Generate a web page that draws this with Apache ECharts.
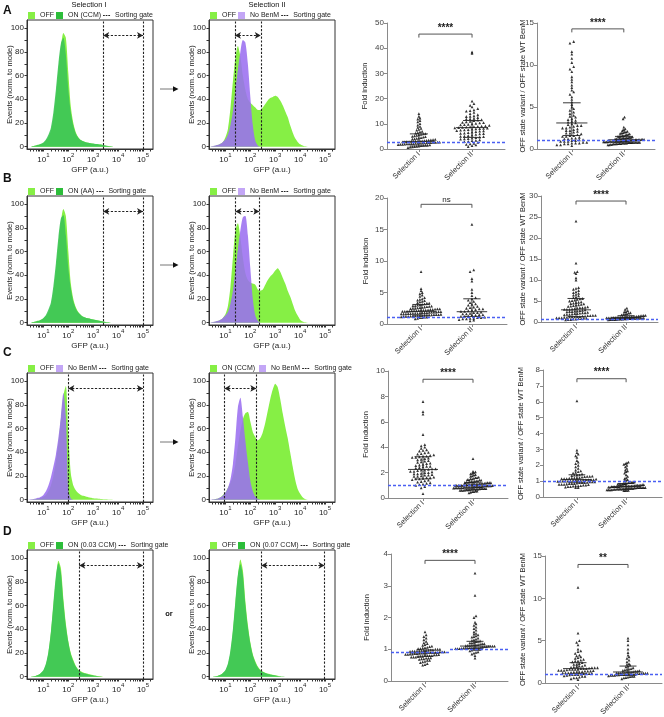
<!DOCTYPE html>
<html><head><meta charset="utf-8">
<script src="https://cdn.jsdelivr.net/npm/echarts@6/dist/echarts.min.js"></script>
<style>html,body{margin:0;padding:0;background:#fff}#c{width:664px;height:717px}</style>
</head><body><div id="c"></div>
<script>
// ---------- Histogram data (x = log10 GFP bin centre, y = events normalised to mode) ----------
const binsLog = [0.4,0.5,0.6,0.7,0.8,0.9,1.0,1.1,1.2,1.3,1.4,1.5,1.6,1.7,1.8,1.9,2.0,2.1,2.2,2.3,2.4,2.5,2.6,2.7,2.8,2.9,3.0,3.1,3.2,3.3,3.4,3.5,3.6,3.7,3.8,3.9,4.0,4.1,4.2,4.3,4.4,4.5,4.6,4.7,4.8];
const offA1 = [0,0,0.5,1,1.5,2,3,5,8,13, 24,42,64,84,96,92,62,34,20,12, 8,5.5,4.5,3.8,3.2,2.8,2.5,2.2,2,1.7, 1.2,0.8,0.5,0.3,0,0,0,0,0,0, 0,0,0,0,0];
const onA1  = [0,0,0.5,1,1.5,2.5,3.5,6,10,16, 29,48,70,87,92,78,48,29,18,11, 7.5,5.5,4.5,3.8,3.3,2.9,2.6,2.3,2.1,1.8, 1.4,1,0.6,0.3,0,0,0,0,0,0, 0,0,0,0,0];
const offA2 = [0,0.3,0.8,1.5,2.5,4,8,15,32,55, 75,85,76,60,48,40,37,35,33,31, 31,33,36,39,41,42,43,42,39,35, 30,25,18,12,7,4,2,1,0.3,0, 0,0,0,0,0];
const noBenmA2 = [0,0.5,1,1.5,2.5,4,6,10,18,30, 48,65,80,90,88,70,42,18,5,1, 0,0,0,0,0,0,0,0,0,0, 0,0,0,0,0,0,0,0,0,0, 0,0,0,0,0];
const offB1 = [0,0,0.5,1,1.5,2.5,3.5,5.5,8.5,14, 26,44,66,85,96,90,60,33,20,13, 9,6.5,5,4.2,3.6,3,2.6,2.2,1.8,1.4, 1,0.6,0.3,0,0,0,0,0,0,0, 0,0,0,0,0];
const onB1  = [0,0,0.5,1,1.5,2.5,4,6.5,11,17, 31,50,72,88,91,74,46,29,18,12, 8.5,6.5,5,4.2,3.6,3,2.6,2.2,1.8,1.4, 1,0.6,0.3,0,0,0,0,0,0,0, 0,0,0,0,0];
const offB2 = [0,0.3,0.8,1.5,2.5,4,7,14,30,55, 78,84,72,55,42,36,34,33,32,28, 27,28,32,36,39,41,44,46,43,38, 33,27,22,16,10,6,2.5,1,0.3,0, 0,0,0,0,0];
const noBenmB2 = [0,0.5,1,1.5,2.5,4,6,9,16,27, 44,62,78,89,90,74,46,20,6,1.5, 0,0,0,0,0,0,0,0,0,0, 0,0,0,0,0,0,0,0,0,0, 0,0,0,0,0];
const offC1 = [0,0,0.3,0.6,1,1.5,2.5,4,7,12, 20,32,48,68,88,96,55,22,12,8, 5.5,4,3.2,2.6,2,1.6,1.2,1,0.8,0.6, 0.4,0.3,0.2,0.1,0,0,0,0,0,0, 0,0,0,0,0];
const noBenmC1 = [0,0.3,0.6,1,1.5,2.5,4,7,12,19, 28,38,52,70,90,70,8,1,0,0, 0,0,0,0,0,0,0,0,0,0, 0,0,0,0,0,0,0,0,0,0, 0,0,0,0,0];
const onC2 = [0,0.2,0.5,1,2,4,6,10,14,20, 30,45,58,68,73,74,66,57,53,50, 52,57,65,75,85,93,98,95,85,73, 62,52,40,28,17,9,5,2,0.5,0, 0,0,0,0,0];
const noBenmC2 = [0,0.3,0.6,1,2,3.5,6,10,17,30, 52,78,86,70,50,32,16,7,2.5,0.8, 0,0,0,0,0,0,0,0,0,0, 0,0,0,0,0,0,0,0,0,0, 0,0,0,0,0];
const offD1 = [0,0,0.3,0.8,1.5,3,5,10,20,37, 60,82,98,92,66,45,30,20,14,9, 6,4.5,3.5,2.8,2.2,1.7,1.2,0.8,0.5,0.3, 0,0,0,0,0,0,0,0,0,0, 0,0,0,0,0];
const onD1  = [0,0,0.3,0.8,1.5,3,5.5,11,21,38, 62,85,96,88,63,43,29,19,13,8.5, 5.5,4,3,2.4,1.9,1.4,1,0.7,0.4,0.2, 0,0,0,0,0,0,0,0,0,0, 0,0,0,0,0];
const offD2 = [0,0,0.3,0.8,1.5,3,5,10,20,38, 62,85,99,90,64,44,29,19,13,8.5, 5.8,4.3,3.3,2.6,2,1.5,1.1,0.7,0.4,0.2, 0,0,0,0,0,0,0,0,0,0, 0,0,0,0,0];
const onD2  = [0,0,0.3,0.8,1.5,3,5.5,11,22,40, 64,86,95,86,61,42,28,18,12,8, 5.3,3.9,3,2.3,1.8,1.3,0.9,0.6,0.3,0.1, 0,0,0,0,0,0,0,0,0,0, 0,0,0,0,0];
// sorting gates, log10 GFP
const gatesA1 = [3.4, 5.0], gatesA2 = [1.38, 2.42];
const gatesB1 = [3.4, 5.0], gatesB2 = [1.4, 2.36];
const gatesC1 = [2.0, 5.0], gatesC2 = [0.96, 2.24];
const gatesD1 = [2.44, 5.0], gatesD2 = [2.44, 4.98];
const decadeTicks = [1,2,3,4,5];
const histYTicks = [0,20,40,60,80,100];

// ---------- Dot plot data ----------
const groupNames = ['Selection I','Selection II'];
const foldA_I = [0.6,0.8,0.9,1.0,1.1,1.2,1.3,1.4,1.5,1.5,1.6,1.7,1.8,1.8,1.9,2.0,2.0,2.1,2.1,2.2,2.2,2.3,2.3,2.4,2.4,2.5,2.5,2.6,2.6,2.7,2.7,2.8,2.8,2.9,2.9,3.0,3.0,3.1,3.1,3.2,3.2,3.3,3.4,3.5,3.6,3.7,3.8,3.9,4.0,4.2,4.3,4.5,4.7,4.9,5.0,5.2,5.4,5.6,5.8,6.0,6.1,6.3,6.5,6.8,7.0,7.5,7.8,8.2,8.6,9.0,9.5,10.1,10.8,11.3,11.9,12.3,13.0,14.0];
const foldA_II = [1.0,1.3,1.6,1.8,2.0,2.2,2.6,2.9,3.0,3.3,3.4,3.6,3.9,4.0,4.1,4.3,4.5,4.7,4.9,5.0,5.1,5.3,5.5,5.8,6.0,6.1,6.2,6.3,6.5,6.7,6.9,7.1,7.2,7.3,7.5,7.6,7.7,7.9,8.0,8.1,8.2,8.3,8.4,8.5,8.6,8.7,8.8,8.9,9.0,9.1,9.2,9.4,9.6,9.7,9.8,10.0,10.2,10.4,10.5,10.6,10.8,11.0,11.3,11.5,11.6,11.9,12.0,12.2,12.5,12.9,13.0,13.2,13.6,14.0,14.5,15.0,15.2,15.5,16.0,16.7,17.3,18.0,19.0,38.0,38.5];
const offA_I = [0.4,0.5,0.5,0.6,0.6,0.7,0.7,0.7,0.8,0.8,0.9,0.9,0.9,1.0,1.0,1.1,1.1,1.2,1.2,1.3,1.3,1.4,1.5,1.5,1.6,1.6,1.7,1.8,1.9,1.9,2.0,2.1,2.2,2.2,2.3,2.4,2.5,2.5,2.6,2.7,2.8,2.8,2.9,3.0,3.1,3.2,3.3,3.4,3.5,3.6,3.8,3.9,4.0,4.2,4.4,4.6,4.8,5.0,5.3,5.6,5.9,6.2,6.5,6.8,7.0,7.3,7.6,8.0,8.3,8.6,9.2,9.5,9.8,10.3,10.8,11.3,11.6,12.6,12.8];
const offA_II = [0.5,0.5,0.55,0.55,0.6,0.6,0.6,0.65,0.65,0.65,0.7,0.7,0.7,0.7,0.75,0.75,0.75,0.75,0.8,0.8,0.8,0.8,0.8,0.85,0.85,0.85,0.85,0.9,0.9,0.9,0.9,0.9,0.95,0.95,0.95,0.95,1.0,1.0,1.0,1.0,1.0,1.05,1.05,1.05,1.05,1.1,1.1,1.1,1.1,1.15,1.15,1.15,1.2,1.2,1.2,1.25,1.25,1.3,1.3,1.3,1.35,1.35,1.4,1.4,1.45,1.5,1.5,1.55,1.6,1.6,1.65,1.7,1.75,1.8,1.85,1.9,1.95,2.0,2.05,2.1,2.2,2.3,2.4,2.6,3.6,3.8];
const foldB_I = [0.8,0.9,1.0,1.0,1.1,1.1,1.15,1.2,1.2,1.2,1.25,1.3,1.3,1.3,1.35,1.35,1.4,1.4,1.4,1.45,1.5,1.5,1.5,1.55,1.6,1.6,1.6,1.65,1.65,1.7,1.7,1.7,1.75,1.8,1.8,1.8,1.85,1.9,1.9,1.9,1.95,1.95,2.0,2.0,2.0,2.05,2.1,2.1,2.1,2.15,2.2,2.2,2.2,2.25,2.3,2.3,2.35,2.4,2.4,2.45,2.5,2.5,2.55,2.6,2.65,2.7,2.75,2.8,2.85,2.9,2.9,3.0,3.05,3.1,3.2,3.3,3.3,3.4,3.5,3.6,3.7,3.8,3.9,4.0,4.2,4.4,4.6,4.8,5.0,5.3,5.6,8.3];
const foldB_II = [0.5,0.6,0.7,0.8,0.8,0.9,0.9,1.0,1.0,1.1,1.2,1.2,1.3,1.4,1.4,1.5,1.5,1.6,1.6,1.7,1.8,1.8,1.9,2.0,2.0,2.1,2.2,2.3,2.4,2.4,2.5,2.6,2.7,2.8,3.0,3.1,3.2,3.4,3.6,3.8,4.0,4.2,4.5,5.0,5.5,6.8,7.2,8.3,8.6,15.8];
const offB_I = [0.5,0.6,0.6,0.7,0.7,0.8,0.8,0.9,0.9,1.0,1.0,1.0,1.1,1.1,1.2,1.2,1.2,1.3,1.3,1.4,1.4,1.5,1.5,1.6,1.6,1.7,1.8,1.8,1.9,2.0,2.0,2.1,2.2,2.2,2.3,2.4,2.5,2.5,2.6,2.6,2.7,2.8,2.9,3.0,3.0,3.0,3.1,3.2,3.3,3.4,3.4,3.5,3.6,3.7,3.8,3.9,4.0,4.1,4.2,4.3,4.4,4.5,4.6,4.7,4.8,5.0,5.1,5.2,5.4,5.5,5.6,5.8,6.0,6.2,6.4,6.6,6.8,7.0,7.2,7.5,7.8,8.0,8.2,10.0,10.5,11.5,11.8,12.0,14.0,24.0];
const offB_II = [0.5,0.55,0.6,0.6,0.6,0.65,0.7,0.7,0.7,0.75,0.75,0.8,0.8,0.8,0.85,0.85,0.9,0.9,0.9,0.95,0.95,1.0,1.0,1.0,1.0,1.05,1.05,1.1,1.1,1.1,1.15,1.15,1.2,1.2,1.2,1.25,1.3,1.3,1.35,1.4,1.45,1.5,1.55,1.6,1.7,1.8,1.9,2.0,2.1,2.2,2.4,2.5,2.7,3.0,3.3];
const foldC_I = [0.35,0.8,0.9,1.0,1.05,1.1,1.15,1.2,1.25,1.3,1.35,1.4,1.45,1.5,1.5,1.55,1.6,1.6,1.65,1.7,1.7,1.75,1.8,1.8,1.85,1.9,1.9,1.95,2.0,2.0,2.05,2.1,2.1,2.15,2.2,2.2,2.25,2.3,2.3,2.35,2.4,2.45,2.5,2.5,2.55,2.6,2.65,2.7,2.75,2.8,2.85,2.9,2.95,3.0,3.05,3.1,3.15,3.2,3.2,3.25,3.3,3.3,3.35,3.4,3.45,3.5,3.55,3.6,3.7,3.75,3.8,3.9,4.0,4.1,4.2,5.0,6.6,6.8,7.6];
const foldC_II = [0.4,0.45,0.5,0.5,0.55,0.55,0.6,0.6,0.6,0.62,0.65,0.65,0.65,0.68,0.7,0.7,0.7,0.7,0.72,0.75,0.75,0.75,0.75,0.78,0.8,0.8,0.8,0.8,0.8,0.82,0.85,0.85,0.85,0.85,0.85,0.88,0.9,0.9,0.9,0.9,0.9,0.92,0.95,0.95,0.95,0.95,0.95,0.98,1.0,1.0,1.0,1.0,1.0,1.02,1.05,1.05,1.05,1.05,1.08,1.1,1.1,1.1,1.1,1.12,1.15,1.15,1.15,1.18,1.2,1.2,1.2,1.22,1.25,1.25,1.28,1.3,1.3,1.32,1.35,1.35,1.4,1.4,1.45,1.45,1.5,1.5,1.55,1.6,1.6,1.65,1.7,1.75,1.8,1.85,1.9,1.95,2.0,2.05,2.1,3.1];
const offC_I = [0.6,0.6,0.62,0.65,0.65,0.68,0.7,0.7,0.72,0.75,0.75,0.78,0.8,0.8,0.8,0.82,0.85,0.85,0.85,0.88,0.9,0.9,0.9,0.92,0.95,0.95,0.95,0.98,1.0,1.0,1.0,1.0,1.02,1.05,1.05,1.05,1.05,1.08,1.1,1.1,1.1,1.1,1.12,1.15,1.15,1.15,1.18,1.2,1.2,1.2,1.22,1.25,1.28,1.3,1.3,1.32,1.35,1.38,1.4,1.4,1.45,1.5,1.55,1.6,1.65,1.7,1.8,1.9,2.0,2.1,2.2,2.3,2.5,2.6,2.7,2.8,2.95,6.05];
const offC_II = [0.4,0.4,0.42,0.42,0.45,0.45,0.45,0.45,0.48,0.48,0.5,0.5,0.5,0.5,0.5,0.52,0.52,0.55,0.55,0.55,0.55,0.55,0.58,0.58,0.6,0.6,0.6,0.6,0.6,0.6,0.62,0.62,0.65,0.65,0.65,0.65,0.65,0.65,0.68,0.68,0.7,0.7,0.7,0.7,0.7,0.7,0.72,0.72,0.75,0.75,0.75,0.75,0.78,0.78,0.8,0.8,0.8,0.82,0.85,0.85,0.88,0.9,0.9,0.92,0.95,0.95,1.0,1.05,1.1,1.15,1.2,1.3,1.4,1.5,1.6,1.65,1.7,1.8,1.9,2.0,2.05,2.1,2.15,2.2];
const foldD_I = [0.5,0.52,0.55,0.58,0.6,0.62,0.65,0.65,0.68,0.7,0.7,0.72,0.72,0.73,0.75,0.75,0.75,0.77,0.78,0.78,0.8,0.8,0.8,0.8,0.82,0.82,0.83,0.84,0.84,0.85,0.85,0.86,0.86,0.87,0.88,0.88,0.88,0.9,0.9,0.9,0.9,0.9,0.92,0.92,0.92,0.93,0.94,0.94,0.94,0.95,0.95,0.96,0.96,0.97,0.98,0.98,1.0,1.0,1.0,1.02,1.02,1.04,1.05,1.06,1.08,1.1,1.12,1.15,1.18,1.2,1.25,1.3,1.35,1.4,1.45,1.55];
const foldD_II = [0.72,0.8,0.85,0.88,0.9,0.92,0.95,0.97,1.0,1.0,1.0,1.0,1.02,1.02,1.02,1.03,1.04,1.04,1.04,1.05,1.05,1.06,1.06,1.06,1.07,1.08,1.08,1.08,1.09,1.1,1.1,1.1,1.11,1.12,1.12,1.13,1.14,1.14,1.15,1.16,1.18,1.18,1.2,1.2,1.22,1.24,1.25,1.26,1.28,1.3,1.32,1.35,1.38,1.4,1.42,1.45,1.48,1.5,1.55,1.6,1.65,1.7,1.75,1.8,1.85,2.0,2.05,2.7,3.4];
const offD_I = [0.4,0.5,0.6,0.6,0.7,0.8,0.8,0.85,0.9,0.95,1.0,1.0,1.0,1.05,1.1,1.1,1.1,1.15,1.2,1.2,1.2,1.25,1.3,1.3,1.3,1.35,1.4,1.4,1.4,1.45,1.5,1.5,1.5,1.55,1.6,1.6,1.6,1.65,1.7,1.7,1.7,1.75,1.8,1.8,1.8,1.85,1.9,1.95,2.0,2.0,2.1,2.2,2.2,2.3,2.4,2.5,2.6,2.6,2.7,2.8,2.9,3.0,3.1,3.2,3.3,3.5,3.7,3.8,4.0,4.5,4.8,5.0,5.9,11.3];
const offD_II = [0.5,0.6,0.65,0.7,0.75,0.8,0.8,0.85,0.9,0.9,0.9,0.95,0.95,1.0,1.0,1.0,1.0,1.05,1.05,1.05,1.1,1.1,1.1,1.1,1.15,1.15,1.15,1.2,1.2,1.2,1.25,1.25,1.3,1.3,1.3,1.35,1.4,1.4,1.45,1.5,1.55,1.6,1.65,1.7,1.8,1.9,2.0,2.1,2.2,2.3,2.5,2.7,2.9,3.1,3.3,3.6,4.0,4.5,5.0,5.3];
// mean / lower / upper bars, per group
const statsFoldA = [[3.0,1.2,6.0],[8.5,4.6,11.3]];
const statsOffA  = [[3.1,1.6,5.5],[1.1,0.8,1.5]];
const statsFoldB = [[2.0,1.4,3.1],[1.95,1.2,4.0]];
const statsOffB  = [[2.9,1.3,5.6],[1.1,0.8,1.5]];
const statsFoldC = [[2.25,1.5,3.25],[0.95,0.7,1.2]];
const statsOffC  = [[1.1,0.9,1.4],[0.65,0.5,0.85]];
const statsFoldD = [[0.88,0.78,0.98],[1.1,1.02,1.25]];
const statsOffD  = [[1.7,1.1,2.4],[1.3,0.9,2.0]];
// blue dashed reference (WT) levels
const refFoldA = [2.8], refOffA = [1.0], refFoldB = [1.15], refOffB = [0.7];
const refFoldC = [1.0], refOffC = [1.0], refFoldD = [0.9, 1.0], refOffD = [1.0];
// significance labels and bracket heights
const sigLabels  = ['****','****','ns','****','****','****','****','**'];
const sigHeights = [45.6, 14.3, 19.0, 28.8, 9.35, 7.45, 3.8, 14.0];

// ---------- colours ----------
const LIME = '#86ef45', GREEN = '#3cc456', GREEN_KEY = '#2cbd3a', PURPLE = '#9b6ff0', PURPLE_KEY = '#c3a6f6';
const FONT = 'Liberation Sans, Arial, Helvetica, sans-serif';
const GATE_ICON = 'path://M0,0h0.01v0.01h-0.01zM0,3.4h2v1.2h-2zM3,3.4h2v1.2h-2zM6,3.4h2v1.2h-2zM0,7.99h0.01v0.01h-0.01z';

const opt = {animation:false, textStyle:{fontFamily:FONT}, grid:[], xAxis:[], yAxis:[], series:[], legend:[], graphic:[]};

const X_MIN = 0.34, X_MAX = 5.4;
const minorLog = [];
for (let n = 0; n <= 5; n++) for (let k = 1; k <= 9; k++) { const v = n + Math.log10(k); if (v > X_MIN && v < X_MAX) minorLog.push(v); }

function addHist(p) {
  const gi = opt.grid.length;
  opt.grid.push({left:p.left, top:p.top, width:126, height:129, show:true, borderColor:'#333', borderWidth:1, outerBoundsMode:'none'});
  opt.xAxis.push({gridIndex:gi, type:'value', min:X_MIN, max:X_MAX,
    axisLine:{onZero:false, lineStyle:{color:'#333'}},
    axisTick:{customValues:minorLog, length:2.5, lineStyle:{color:'#333'}},
    axisLabel:{customValues:decadeTicks, margin:3, formatter:v=>'{b|10}{s|'+v+'}',
      rich:{b:{fontSize:8, color:'#222', verticalAlign:'bottom', lineHeight:12}, s:{fontSize:6, color:'#222', verticalAlign:'top', lineHeight:12}}},
    splitLine:{show:false}, name:'GFP (a.u.)', nameLocation:'middle', nameGap:17, nameMoveOverlap:false, nameTextStyle:{fontSize:8, color:'#222'}});
  opt.yAxis.push({gridIndex:gi, type:'value', min:-2, max:107,
    axisLine:{show:true, onZero:false, lineStyle:{color:'#333'}},
    axisTick:{show:true, customValues:[0,10,20,30,40,50,60,70,80,90,100], length:2.5, lineStyle:{color:'#333'}},
    axisLabel:{customValues:histYTicks, fontSize:8, color:'#222', margin:3},
    splitLine:{show:false}, name:'Events (norm. to mode)', nameLocation:'middle', nameGap:13, nameMoveOverlap:false, nameTextStyle:{fontSize:7.5, color:'#222'}});
  const xi = opt.xAxis.length - 1, yi = opt.yAxis.length - 1;
  p.curves.forEach(c => {
    opt.series.push({type:'line', name:c.name, xAxisIndex:xi, yAxisIndex:yi, smooth:0.25, symbol:'none',
      data: binsLog.map((x,i)=>[x, c.data[i]]),
      itemStyle:{color:c.key}, lineStyle:{width:0, color:c.fill},
      areaStyle:{color:c.fill, opacity:c.op}, silent:true, z:2});
  });
  opt.series.push({type:'line', name:'Sorting gate', xAxisIndex:xi, yAxisIndex:yi, symbol:'none', data:[],
    lineStyle:{color:'#111', width:1, type:[1.5,1.5]}, itemStyle:{color:'#111'}, z:5,
    markLine:{silent:true, symbol:'none', label:{show:false}, animation:false,
      lineStyle:{color:'#222', width:1.1, type:[2.2,1.6]},
      data:[{xAxis:p.gates[0]}, {xAxis:p.gates[1]},
        [{coord:[p.gates[0],94], symbol:'arrow', symbolSize:[5,6]}, {coord:[p.gates[1],94], symbol:'arrow', symbolSize:[5,6]}]]}});
  opt.legend.push({left:p.left+1, top:p.top-8, padding:0, itemWidth:7, itemHeight:7, itemGap:2, selectedMode:false,
    textStyle:{fontSize:7, color:'#222', fontFamily:FONT},
    data: p.curves.map(c=>({name:c.name, icon:'rect'})).concat([{name:'Sorting gate', icon:GATE_ICON, itemStyle:{color:'#222'}}])});
}

function swarm(vals, center, ymax, hPx) {
  const nb = hPx / 2.8, h = ymax / nb;
  const bins = new Map();
  vals.forEach(v => { const k = Math.round(v / h); if (!bins.has(k)) bins.set(k, []); bins.get(k).push(v); });
  let maxN = 1; bins.forEach(a => { maxN = Math.max(maxN, a.length); });
  const dx = Math.min(0.072, 0.78 / Math.max(1, maxN - 1));
  const out = [];
  bins.forEach(a => { const n = a.length; a.forEach((v, i) => out.push([center + (i - (n - 1) / 2) * dx, v])); });
  return out;
}

function addDot(p, idx) {
  const gi = opt.grid.length;
  opt.grid.push({left:p.left, top:p.top, width:p.w, height:p.h, outerBoundsMode:'none'});
  opt.xAxis.push({gridIndex:gi, type:'value', min:p.xmin, max:p.xmax,
    axisLine:{onZero:false, lineStyle:{color:'#8a8a8a'}},
    axisTick:{customValues:[0,1], length:3, lineStyle:{color:'#8a8a8a'}},
    axisLabel:{customValues:[0,1], rotate:45, fontSize:7.5, color:'#333', margin:4, formatter:v=>groupNames[Math.round(v)]},
    splitLine:{show:false}});
  opt.yAxis.push({gridIndex:gi, type:'value', min:0, max:p.ymax, interval:p.yint,
    axisLine:{show:true, onZero:false, lineStyle:{color:'#8a8a8a'}},
    axisTick:{show:true, length:3, lineStyle:{color:'#8a8a8a'}},
    axisLabel:{fontSize:8, color:'#444', margin:3},
    splitLine:{show:false}, name:p.name, nameLocation:'middle', nameGap:p.gap, nameMoveOverlap:false, nameTextStyle:{fontSize:7.5, color:'#222'}});
  const xi = opt.xAxis.length - 1, yi = opt.yAxis.length - 1;
  const pts = swarm(p.g1, 0, p.ymax, p.h).concat(swarm(p.g2, 1, p.ymax, p.h));
  let mlData;
  if (p.ref.length === 1) mlData = [{yAxis:p.ref[0]}];
  else mlData = [[{coord:[p.xmin,p.ref[0]]},{coord:[0.5,p.ref[0]]}], [{coord:[0.5,p.ref[1]]},{coord:[p.xmax,p.ref[1]]}]];
  opt.series.push({type:'scatter', xAxisIndex:xi, yAxisIndex:yi, data:pts, symbol:'triangle', symbolSize:2.8,
    itemStyle:{color:'#000'}, silent:true, z:3,
    markLine:{silent:true, symbol:'none', label:{show:false}, animation:false,
      lineStyle:{color:'#4a5ff2', width:1.3, type:[3,2]}, data:mlData}});
  opt.series.push({type:'custom', xAxisIndex:xi, yAxisIndex:yi, silent:true, z:4,
    data: p.stats.map((s,g)=>[g, s[0], s[1], s[2]]), encode:{x:0, y:1},
    renderItem:(params, api)=>{
      const g = api.value(0), m = api.value(1), lo = api.value(2), hi = api.value(3);
      const c = (x,y)=>api.coord([x,y]);
      const seg = (a,b)=>({type:'line', shape:{x1:a[0],y1:a[1],x2:b[0],y2:b[1]}, style:{stroke:'#222', lineWidth:0.9}});
      return {type:'group', children:[seg(c(g-0.3,m),c(g+0.3,m)), seg(c(g,lo),c(g,hi)), seg(c(g-0.17,lo),c(g+0.17,lo)), seg(c(g-0.17,hi),c(g+0.17,hi))]};
    }});
  const lab = sigLabels[idx];
  opt.series.push({type:'custom', xAxisIndex:xi, yAxisIndex:yi, silent:true, z:4,
    data:[[0, sigHeights[idx], 1]], encode:{x:0, y:1},
    renderItem:(params, api)=>{
      const y = api.value(1);
      const p0 = api.coord([0, y]), p1 = api.coord([1, y]);
      return {type:'group', children:[
        {type:'polyline', shape:{points:[[p0[0],p0[1]+3.5],[p0[0],p0[1]],[p1[0],p1[1]],[p1[0],p1[1]+3.5]]}, style:{stroke:'#555', lineWidth:1, fill:null}},
        {type:'text', x:(p0[0]+p1[0])/2, y:p0[1]-1, style:{text:lab, fontSize:lab==='ns'?8:10, fontWeight:lab==='ns'?'normal':'bold', fill:'#222', align:'center', verticalAlign:'bottom', fontFamily:FONT}}
      ]};
    }});
}

const lime = (name, data)=>({name, data, fill:LIME, key:LIME, op:1});
const green = (name, data)=>({name, data, fill:GREEN, key:GREEN_KEY, op:0.9});
const purple = (name, data)=>({name, data, fill:PURPLE, key:PURPLE_KEY, op:0.88});

const histPanels = [
  {left:27,  top:20,  curves:[lime('OFF',offA1), green('ON (CCM)',onA1)], gates:gatesA1},
  {left:209, top:20,  curves:[lime('OFF',offA2), purple('No BenM',noBenmA2)], gates:gatesA2},
  {left:27,  top:196, curves:[lime('OFF',offB1), green('ON (AA)',onB1)], gates:gatesB1},
  {left:209, top:196, curves:[lime('OFF',offB2), purple('No BenM',noBenmB2)], gates:gatesB2},
  {left:27,  top:373, curves:[lime('OFF',offC1), purple('No BenM',noBenmC1)], gates:gatesC1},
  {left:209, top:373, curves:[lime('ON (CCM) ',onC2), purple('No BenM',noBenmC2)], gates:gatesC2},
  {left:27,  top:550, curves:[lime('OFF',offD1), green('ON (0.03 CCM)',onD1)], gates:gatesD1},
  {left:209, top:550, curves:[lime('OFF',offD2), green('ON (0.07 CCM)',onD2)], gates:gatesD2}
];
histPanels.forEach(addHist);

const foldName = 'Fold induction', offName = 'OFF state variant / OFF state WT BenM';
const dotPanels = [
  {left:387, top:23,  w:118, h:126, xmin:-0.6,  xmax:1.62, ymax:50, yint:10, name:foldName, gap:18, g1:foldA_I, g2:foldA_II, stats:statsFoldA, ref:refFoldA},
  {left:537, top:23,  w:118, h:126, xmin:-0.67, xmax:1.6,  ymax:15, yint:5,  name:offName,  gap:10, g1:offA_I,  g2:offA_II,  stats:statsOffA,  ref:refOffA},
  {left:387, top:198, w:120, h:126, xmin:-0.67, xmax:1.69, ymax:20, yint:5,  name:foldName, gap:17, g1:foldB_I, g2:foldB_II, stats:statsFoldB, ref:refFoldB},
  {left:541, top:196, w:117, h:126, xmin:-0.7,  xmax:1.64, ymax:30, yint:5,  name:offName,  gap:14, g1:offB_I,  g2:offB_II,  stats:statsOffB,  ref:refOffB},
  {left:388, top:371, w:120, h:127, xmin:-0.7,  xmax:1.7,  ymax:10, yint:2,  name:foldName, gap:18, g1:foldC_I, g2:foldC_II, stats:statsFoldC, ref:refFoldC},
  {left:543, top:370, w:119, h:127, xmin:-0.69, xmax:1.73, ymax:8,  yint:1,  name:offName,  gap:18, g1:offC_I,  g2:offC_II,  stats:statsOffC,  ref:refOffC},
  {left:391, top:554, w:117, h:127, xmin:-0.68, xmax:1.66, ymax:4,  yint:1,  name:foldName, gap:20, g1:foldD_I, g2:foldD_II, stats:statsFoldD, ref:refFoldD},
  {left:545, top:556, w:117, h:127, xmin:-0.66, xmax:1.68, ymax:15, yint:5,  name:offName,  gap:18, g1:offD_I,  g2:offD_II,  stats:statsOffD,  ref:refOffD}
];
dotPanels.forEach(addDot);

// annotations
const txt = (x,y,t,size,weight,align)=>({type:'text', x, y, silent:true, style:{text:t, fontSize:size, fontWeight:weight||'normal', fill:'#111', align:align||'center', verticalAlign:'top', fontFamily:FONT}});
const arrow = (y)=>[{type:'line', silent:true, shape:{x1:160,y1:y,x2:174,y2:y}, style:{stroke:'#777', lineWidth:1}},
  {type:'polygon', silent:true, shape:{points:[[173,y-2.8],[178.5,y],[173,y+2.8]]}, style:{fill:'#111'}}];
opt.graphic = [
  txt(89,1,'Selection I',7.5), txt(267,1,'Selection II',7.5),
  txt(3,5,'A',12,'bold','left'), txt(3,173,'B',12,'bold','left'), txt(3,347,'C',12,'bold','left'), txt(3,526,'D',12,'bold','left'),
  txt(169,610,'or',7.5,'bold')
].concat(arrow(89), arrow(265), arrow(442));

const chart = echarts.init(document.getElementById('c'), null, {renderer:'canvas'});
chart.setOption(opt);
</script></body></html>
